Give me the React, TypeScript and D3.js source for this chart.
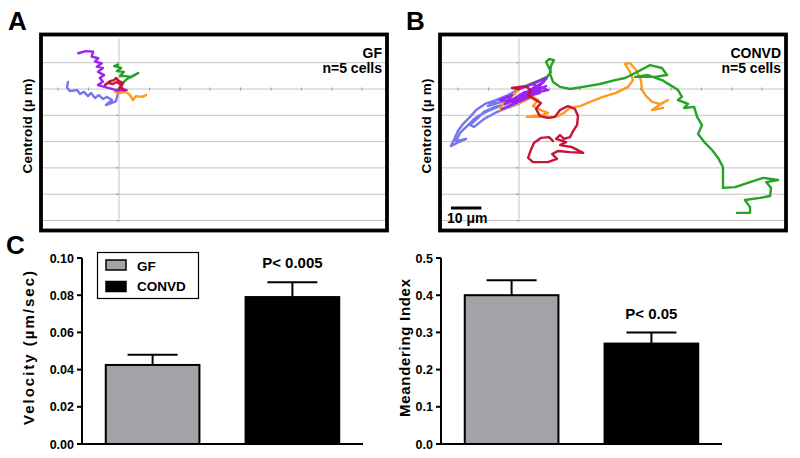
import React from 'react';
import * as d3 from 'd3';

const FONT = 'Arial, "Liberation Sans", Helvetica, sans-serif';

// centroid tracks in µm, GF (panel A)
const gfPurple = [[0, 0], [2.5, -0.4], [-0.3, -0.6], [-3.6, 0.4], [-6.9, 1.5], [-5.3, 2.8], [-6.3, 4.2], [-4.9, 5.3], [-6.9, 6.5], [-5.3, 8.0], [-7.3, 8.5], [-5.7, 9.8], [-7.9, 10.4], [-6.8, 11.7], [-9.0, 12.3], [-8.5, 14.2], [-10.9, 14.4], [-13.4, 13.6]];
const gfBlue = [[0, 0], [-1.0, -4.6], [-2.3, -5.3], [-4.3, -6.1], [-2.3, -4.2], [-3.9, -3.0], [-5.3, -3.8], [-6.6, -2.3], [-7.9, -3.4], [-9.2, -1.5], [-10.2, -2.7], [-11.5, -1.1], [-12.8, -1.9], [-13.8, -0.4], [-16.1, -0.8], [-17.1, 0.4], [-16.8, 2.7]];
const gfGreen = [[0, 0], [1.6, 2.7], [2.6, 3.8], [4.6, 4.9], [6.3, 6.1], [3.9, 4.6], [2.3, 4.9], [0.3, 4.9], [1.6, 6.5], [-0.7, 6.8], [0.7, 8.0], [-1.6, 8.7], [-0.3, 9.3]];
const gfRed = [[0, 0], [0.7, 1.5], [-0.7, 2.7], [-2.0, 1.9], [-3.6, 2.3], [-4.6, 1.5], [-3.0, 3.0], [-1.6, 3.4], [-1.0, 4.2], [0, 3.0], [1.3, 2.3], [0.7, 0.8], [1.6, -0.4]];
const gfOrange = [[0, 0], [-1.3, -1.1], [0.3, -1.5], [2.3, -1.1], [3.6, -2.3], [4.6, -4.2], [5.6, -2.7], [7.6, -3.0], [8.9, -2.3]];

// CONVD (panel B)
const cvPurple = [[0, 0], [3.6, 1.5], [9.2, 4.2], [5.6, -0.4], [8.9, 1.1], [1.0, -3.4], [6.9, -1.5], [-3.6, -4.9], [3.6, -3.0], [-5.6, -7.6], [-0.3, -4.9], [-6.3, -4.2], [-2.3, -2.3], [-4.6, -5.7], [2.0, -1.1], [-2.0, -5.3], [5.3, 0.8], [0.3, -2.7], [8.2, 2.7], [3.0, -1.9], [9.5, -0.4], [4.3, 1.9]];
const cvBlue = [[0, 0], [-3.6, -2.3], [-7.6, -4.2], [-11.2, -5.7], [-14.1, -8.0], [-16.1, -10.6], [-18.4, -13.3], [-20.1, -16.0], [-21.1, -18.6], [-22.4, -21.7], [-20.4, -20.5], [-17.4, -19.0], [-20.7, -19.8], [-19.4, -16.7], [-17.1, -14.1], [-14.8, -11.4], [-12.8, -9.9], [-9.5, -8.0], [-6.3, -6.5], [-2.3, -4.6], [0.3, -3.4], [-3.0, -5.3], [-7.9, -6.8], [-11.5, -8.7], [-13.5, -11.0], [-16.1, -13.7], [-14.8, -14.4], [-11.5, -11.4], [-7.9, -9.1], [-3.9, -7.2], [-0.3, -5.7], [2.0, -4.2], [-2.3, -3.8], [-6.9, -5.3], [-10.2, -6.5], [-7.2, -4.2], [-3.6, -3.0], [-1.3, -1.9]];
const cvGreen = [[0, 0], [3.6, 1.9], [6.9, 3.4], [9.2, 4.6], [10.5, 6.5], [8.9, 10.3], [9.9, 11.4], [11.5, 11.0], [10.5, 8.7], [10.2, 5.7], [11.2, 2.7], [13.5, 0.8], [16.8, 0], [21.1, 0.8], [26.6, 1.9], [31.6, 3.4], [34.9, 4.2], [38.2, 6.1], [43.1, 9.1], [47.0, 8.0], [48.7, 5.3], [44.7, 4.6], [40.5, 4.6], [38.2, 4.6], [42.4, 5.3], [47.0, 3.4], [50.3, 1.1], [52.3, -0.4], [53.6, -3.0], [52.3, -4.2], [55.6, -5.7], [54.3, -7.2], [57.6, -6.8], [58.6, -10.6], [60.2, -13.7], [58.9, -17.1], [61.2, -20.5], [63.5, -23.2], [65.5, -26.2], [67.1, -29.7], [67.1, -37.6], [71.1, -37.3], [76.0, -35.4], [80.3, -33.8], [85.2, -34.6], [81.3, -35.4], [82.9, -37.6], [82.6, -40.7], [79.3, -41.4], [74.3, -42.2], [76.0, -44.9], [76.0, -47.1], [71.7, -47.1]];
const cvRed = [[0, 0], [-2.3, 0.4], [2.0, 1.1], [3.9, -0.4], [3.0, -2.3], [4.9, -3.8], [7.2, -5.3], [5.6, -7.6], [6.9, -10.3], [9.5, -11.0], [11.8, -10.6], [13.5, -8.0], [16.1, -6.5], [18.4, -7.6], [19.4, -10.3], [19.1, -13.7], [17.8, -16.0], [16.8, -18.3], [14.8, -19.0], [13.5, -17.5], [12.2, -19.0], [15.5, -20.2], [13.5, -21.3], [17.4, -22.1], [21.1, -24.3], [16.8, -24.0], [12.8, -23.6], [10.9, -24.7], [12.5, -26.6], [9.5, -27.8], [4.6, -27.8], [3.0, -26.2], [3.9, -23.2], [4.9, -20.5], [7.2, -18.6], [9.9, -18.3], [11.2, -19.8]];
const cvOrange = [[0, 0], [-2.3, -2.7], [-5.3, -5.7], [-6.3, -8.0], [-3.0, -6.5], [1.0, -4.9], [4.6, -3.0], [6.3, -4.2], [4.6, -6.5], [7.2, -8.0], [9.5, -9.1], [6.3, -10.6], [2.6, -10.6], [6.9, -9.9], [10.2, -11.0], [12.8, -10.3], [14.8, -9.1], [16.8, -7.2], [20.1, -6.5], [23.4, -4.9], [27.6, -3.0], [31.9, -1.5], [35.9, 0.8], [37.5, 3.4], [36.5, 6.5], [34.9, 9.5], [36.5, 9.9], [38.5, 7.2], [40.1, 3.4], [40.5, -0.4], [41.8, -2.7], [43.8, -4.9], [46.4, -5.7], [49.0, -4.2], [45.7, -6.5], [43.8, -8.0], [47.4, -7.2]];

const xTicks = [-20, -10, 0, 10, 20, 30, 40, 50, 60, 70, 80];
const yGrid = [-50, -40, -30, -20, -10, 0, 10];

const groups = ['GF', 'CONVD'];
const velocity = [0.0425, 0.079];
const velocityErr = [0.0055, 0.008];
const velocityTicks = [0, 0.02, 0.04, 0.06, 0.08, 0.1];
const meander = [0.4, 0.27];
const meanderErr = [0.04, 0.03];
const meanderTicks = [0, 0.1, 0.2, 0.3, 0.4, 0.5];

const trackColors = { blue: '#7676f0', orange: '#ff9a1c', green: '#24a324', purple: '#9a22f2', red: '#c8123a' };
const barColors = ['#a3a3a7', '#000000'];

function TrackPanel({ left, originX, tracks, title }) {
  const x = d3.scaleLinear().domain([-20, 80]).range([originX - 60.8, originX + 243.2]);
  const y = d3.scaleLinear().domain([-50, 10]).range([220.5, 62.7]);
  const line = d3.line().x(d => x(d[0])).y(d => y(d[1]));
  const fw = 346, fh = 196, top = 34.5;
  const clipId = 'clip' + title;
  return (
    <g>
      <defs>
        <clipPath id={clipId}><rect x={left} y={top} width={fw} height={fh} /></clipPath>
      </defs>
      {yGrid.map(v => (
        <line key={v} x1={left} x2={left + fw} y1={y(v)} y2={y(v)} stroke="#c4c4c4" strokeWidth={1} />
      ))}
      <line x1={x(0)} x2={x(0)} y1={38} y2={222} stroke="#c4c4c4" strokeWidth={1} />
      {xTicks.map(v => (
        <line key={v} x1={x(v)} x2={x(v)} y1={y(0) - 1.5} y2={y(0) + 1.5} stroke="#999" strokeWidth={1} />
      ))}
      {yGrid.map(v => (
        <line key={v} x1={x(0) - 3} x2={x(0)} y1={y(v)} y2={y(v)} stroke="#999" strokeWidth={1} />
      ))}
      <g clipPath={`url(#${clipId})`}>
        {tracks.map(([c, pts]) => (
          <path key={c} d={line(pts)} fill="none" stroke={trackColors[c]} strokeWidth={2.4} strokeLinejoin="round" strokeLinecap="round" />
        ))}
      </g>
      <rect x={left} y={top} width={fw} height={fh} fill="none" stroke="#000" strokeWidth={3.8} />
      <g fontSize={14} fontWeight="bold" fontFamily={FONT} textAnchor="end">
        <text x={left + fw - 5} y={57.5}>{title}</text>
        <text x={left + fw - 5} y={73}>n=5 cells</text>
      </g>
      <text transform={`translate(${left - 9.5},126) rotate(-90)`} textAnchor="middle" fontSize={13.5}
        fontWeight="bold" fontFamily={FONT} textLength={95} lengthAdjust="spacing">Centroid (µ m)</text>
      {title === 'CONVD' && (
        <g>
          <line x1={451} x2={451 + x(10) - x(0)} y1={208} y2={208} stroke="#000" strokeWidth={3} />
          <text x={447} y={223} fontSize={14} fontWeight="bold" fontFamily={FONT}>10 μm</text>
        </g>
      )}
    </g>
  );
}

function BarPanel({ x0, x1, values, errs, ticks, max, fmt, label, labelX, labelLen, pText, pIndex, pY }) {
  const y = d3.scaleLinear().domain([0, max]).range([444, 258]);
  const x = d3.scaleBand().domain(groups).range([x0, x1]).paddingInner(0.33).paddingOuter(0.17);
  const bw = x.bandwidth();
  return (
    <g fontFamily={FONT}>
      {groups.map((g, i) => {
        const cx = x(g) + bw / 2;
        return (
          <g key={g}>
            <line x1={cx} x2={cx} y1={y(values[i])} y2={y(values[i] + errs[i])} stroke="#000" strokeWidth={2} />
            <line x1={cx - 25} x2={cx + 25} y1={y(values[i] + errs[i])} y2={y(values[i] + errs[i])} stroke="#000" strokeWidth={2} />
            <rect x={x(g)} y={y(values[i])} width={bw} height={y(0) - y(values[i])} fill={barColors[i]} stroke="#000" strokeWidth={2} />
          </g>
        );
      })}
      <line x1={x0} x2={x0} y1={y(max)} y2={y(0)} stroke="#000" strokeWidth={2} />
      <line x1={x0} x2={x1} y1={y(0)} y2={y(0)} stroke="#000" strokeWidth={2} />
      {ticks.map(t => (
        <g key={t}>
          <line x1={x0 - 5} x2={x0} y1={y(t)} y2={y(t)} stroke="#000" strokeWidth={2} />
          <text x={x0 - 8} y={y(t)} dy="0.36em" textAnchor="end" fontSize={12.5} fontWeight="bold">{fmt(t)}</text>
        </g>
      ))}
      <text transform={`translate(${labelX},348) rotate(-90)`} textAnchor="middle" fontSize={15} fontWeight="bold"
        textLength={labelLen} lengthAdjust="spacing">{label}</text>
      <text x={x(groups[pIndex]) + bw / 2} y={pY} textAnchor="middle" fontSize={15} fontWeight="bold">{pText}</text>
    </g>
  );
}

export default function App() {
  return (
    <svg width={800} height={458} style={{ position: 'absolute', left: 0, top: 0, background: '#fff' }}>
      <rect width={800} height={458} fill="#fff" />
      <TrackPanel left={41} originX={119} title="GF"
        tracks={[['blue', gfBlue], ['orange', gfOrange], ['green', gfGreen], ['purple', gfPurple], ['red', gfRed]]} />
      <TrackPanel left={440} originX={519} title="CONVD"
        tracks={[['blue', cvBlue], ['orange', cvOrange], ['green', cvGreen], ['purple', cvPurple], ['red', cvRed]]} />
      <g fontFamily={FONT} fontWeight="bold" fontSize={26}>
        <text x={8} y={30}>A</text>
        <text x={406} y={30}>B</text>
        <text x={6} y={254}>C</text>
      </g>
      <BarPanel x0={82} x1={363} values={velocity} errs={velocityErr} ticks={velocityTicks} max={0.1}
        fmt={d3.format('.2f')} label="Velocity (µm/sec)" labelX={33.5} labelLen={154} pText="P< 0.005" pIndex={1} pY={268} />
      <BarPanel x0={441} x1={722} values={meander} errs={meanderErr} ticks={meanderTicks} max={0.5}
        fmt={d3.format('.1f')} label="Meandering Index" labelX={410} labelLen={138} pText="P< 0.05" pIndex={1} pY={319} />
      <g fontFamily={FONT} fontWeight="bold" fontSize={13.5}>
        <rect x={97.5} y={252.5} width={101} height={46} fill="#fff" stroke="#000" strokeWidth={1.2} />
        <rect x={106} y={260} width={20} height={10} fill={barColors[0]} stroke="#000" strokeWidth={1.5} />
        <rect x={106} y={281.5} width={20} height={10} fill={barColors[1]} stroke="#000" strokeWidth={1.5} />
        <text x={137} y={270.5}>{groups[0]}</text>
        <text x={137} y={291}>{groups[1]}</text>
      </g>
    </svg>
  );
}
